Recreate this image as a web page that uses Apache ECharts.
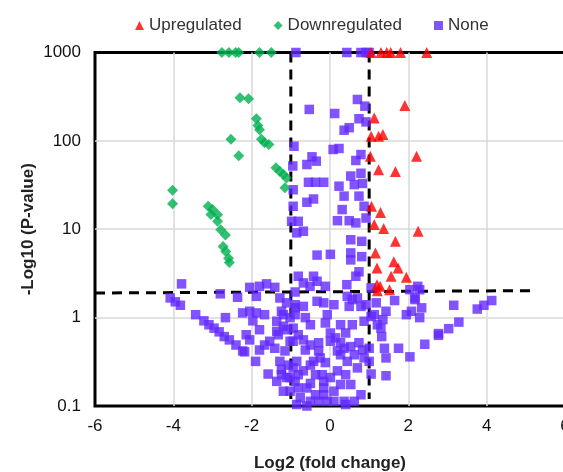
<!DOCTYPE html>
<html>
<head>
<meta charset="utf-8">
<script src="https://cdn.jsdelivr.net/npm/echarts@6/dist/echarts.min.js"></script>
<style>
  html, body { margin: 0; padding: 0; background: #fff; }
  #volcano { width: 563px; height: 472px; }
</style>
</head>
<body>
<div id="volcano"></div>
<script>
// [log2 fold change, -log10 p]
var upregulated = [
  [1.05, 1000], [1.3, 1000], [1.45, 1000], [1.55, 1000], [1.8, 1000], [2.47, 1000],
  [1.91, 251], [1.13, 182], [1.05, 113], [1.24, 113], [1.35, 118],
  [1.03, 67], [2.21, 67], [1.24, 47], [1.67, 45], [1.06, 18.2], [1.29, 15.5],
  [1.13, 11.3], [1.37, 10.2], [2.25, 9.5], [1.67, 7.3], [1.16, 5.4], [1.63, 4.3],
  [1.2, 3.65], [1.74, 3.65], [1.56, 2.94], [1.95, 2.86], [1.2, 2.36], [1.28, 2.26],
  [1.52, 2.07], [1.21, 2.02]
]
var downregulated = [
  [-2.76, 1000], [-2.58, 1000], [-2.41, 1000], [-2.33, 1000], [-1.8, 1000], [-1.5, 1000],
  [-2.3, 307], [-2.08, 300], [-1.88, 178], [-1.84, 149], [-1.8, 134], [-1.75, 104],
  [-1.67, 95], [-1.56, 91], [-2.53, 104], [-2.33, 68], [-1.38, 49.6], [-1.28, 45],
  [-1.19, 41.6], [-1.11, 38], [-1.15, 29.4], [-4.02, 27.7], [-4.02, 19.4],
  [-3.11, 18.2], [-3.0, 16.7], [-2.87, 14.6], [-3.04, 14.7], [-2.87, 12.3],
  [-2.79, 9.9], [-2.67, 8.6], [-2.73, 6.4], [-2.66, 5.6], [-2.59, 4.7], [-2.57, 4.2]
]
var none = [
  [-0.87, 1000], [0.43, 1000], [0.79, 1000], [0.92, 1000], [1.0, 1000],
  [0.7, 294], [0.89, 247], [-0.53, 227], [0.12, 204], [0.74, 178], [0.92, 164],
  [0.36, 132], [0.49, 141], [-0.92, 87], [0.08, 80], [0.23, 82], [-0.46, 66],
  [-0.35, 59], [-0.59, 54], [0.79, 70], [0.66, 60], [-0.95, 52], [0.53, 40],
  [0.79, 43], [0.62, 32], [0.83, 33], [-0.55, 34], [-0.37, 34], [-0.16, 34],
  [0.23, 30.7], [-0.94, 28], [0.36, 23.7], [0.74, 23.7], [-0.59, 20.2], [-0.42, 22],
  [-0.94, 18.2], [0.87, 18.2], [0.31, 16.7],
  [-0.81, 12.3], [-0.68, 9.5], [-0.85, 9.1], [0.19, 12.5], [0.49, 12.5], [0.66, 11.8],
  [0.92, 13.4], [0.53, 7.6], [0.81, 7.3], [-0.33, 5.1], [0.01, 5.2], [0.53, 5.4],
  [0.53, 4.5], [0.81, 4.9], [0.74, 3.3], [0.66, 2.94], [0.43, 2.36], [-0.81, 2.94],
  [-0.42, 2.94], [-0.33, 2.58], [-0.68, 2.47], [-0.51, 2.26], [-0.12, 2.26],
  [-0.89, 1.95], [-0.98, 12.3], [1.05, 2.17], [1.65, 1.56], [2.04, 2.07], [2.24, 2.26],
  [2.17, 1.67], [2.34, 1.29], [2.29, 1.0], [1.95, 1.08], [2.08, 1.18], [2.17, 1.6],
  [-0.33, 1.53], [-0.16, 1.47], [0.1, 1.4], [0.44, 1.74], [0.57, 1.6], [0.7, 1.67],
  [0.49, 1.34], [0.79, 1.34], [0.92, 1.4], [1.18, 1.47], [1.43, 1.18], [1.35, 0.95],
  [1.13, 1.08], [1.21, 0.83], [-0.07, 1.08], [-0.12, 0.87], [0.27, 0.83], [0.57, 0.83],
  [0.87, 0.91], [1.05, 1.03], [1.3, 0.76], [1.32, 0.61], [1.39, 0.45], [1.43, 0.35],
  [1.43, 0.22], [1.75, 0.45], [2.04, 0.36], [2.42, 0.5], [2.77, 0.63],
  [0.01, 0.67], [0.14, 0.59], [0.27, 0.52], [0.53, 0.47], [0.83, 0.43], [1.0, 0.45],
  [1.0, 0.32], [1.05, 0.23],
  [-0.94, 0.76], [-0.94, 0.54], [-0.68, 0.56], [-0.5, 0.49], [-0.29, 0.42], [-0.42, 0.32],
  [-0.85, 0.32], [-0.68, 0.25], [-0.89, 0.19], [-0.59, 0.16], [-0.76, 0.124], [-0.5, 0.113],
  [-0.29, 0.113], [-0.16, 0.134], [0.01, 0.21], [0.19, 0.25], [0.27, 0.38], [0.44, 0.32],
  [0.4, 0.226], [0.62, 0.38], [0.7, 0.27], [0.53, 0.175], [0.1, 0.147], [0.36, 0.113],
  [0.62, 0.113], [0.79, 0.134], [0.27, 0.175], [-0.2, 0.226],
  [-3.79, 2.41], [-4.08, 1.67], [-3.95, 1.51], [-3.82, 1.38], [-3.43, 1.08], [-3.22, 0.92],
  [-3.09, 0.83], [-2.96, 0.76], [-2.83, 0.69], [-2.7, 0.61], [-2.57, 0.56], [-2.4, 0.49],
  [-2.18, 0.41], [-1.9, 0.32], [-1.58, 0.23], [-2.8, 1.86], [-2.36, 1.7], [-2.67, 1.0],
  [-2.05, 2.2], [-1.8, 2.26], [-1.62, 2.41], [-1.41, 2.2], [-1.88, 1.74], [-2.23, 1.13],
  [-2.05, 1.18], [-1.88, 1.13], [-1.67, 1.08], [-1.97, 0.92], [-2.14, 0.64], [-2.05, 0.56],
  [-1.8, 0.73], [-1.8, 0.43], [-1.67, 0.49], [-2.23, 0.42],
  [-1.28, 1.67], [-1.11, 1.47], [-1.24, 1.18], [-1.36, 0.91], [-1.19, 0.8], [-1.32, 0.64],
  [-1.54, 0.54], [-1.41, 0.45], [-1.15, 0.42], [-1.28, 0.32], [-1.06, 0.29], [-1.24, 0.226],
  [-1.36, 0.19], [-1.11, 0.21], [-1.02, 0.147], [-1.19, 0.147], [-0.89, 1.4], [-0.85, 0.104],
  [-1.19, 1.08], [-1.02, 1.0], [-1.36, 0.7], [-1.11, 0.73], [-1.02, 0.54], [-0.94, 0.27],
  [-1.02, 0.21], [-0.81, 0.226], [-0.81, 0.16], [-1.24, 0.26],
  [-0.89, 1.29], [-0.68, 1.34], [-0.89, 1.08], [-0.63, 1.0], [-0.5, 0.83], [-0.81, 0.64],
  [-0.29, 0.52], [-0.63, 0.43], [-0.25, 0.35], [-0.5, 0.29], [-0.12, 0.31], [-0.37, 0.226],
  [-0.16, 0.19], [-0.5, 0.18], [-0.16, 0.16], [-0.37, 0.134], [-0.07, 0.113], [-0.59, 0.1],
  [0.1, 0.113], [0.4, 0.104], [0.19, 0.42], [0.36, 0.45], [0.74, 0.52], [0.87, 0.35],
  [0.01, 0.54], [0.4, 0.67],
  [3.16, 1.38], [3.76, 1.25], [3.93, 1.38], [4.13, 1.56], [3.29, 0.89], [3.03, 0.75],
  [2.77, 0.66], [2.29, 2.07]
]
// threshold guides
var pCutLine = [[-6, 1.9], [5.2, 2.02]]
var fcCutLeft = [[-1, 1000], [-1, 0.12]]
var fcCutRight = [[1, 1000], [1, 0.12]]
var xTicks = { min: -6, max: 6, step: 2 }
var yTicks = { min: 0.1, max: 1000 }

var chart = echarts.init(document.getElementById('volcano'))
var font = 'Liberation Sans, Arial, sans-serif'
var dashStyle = { color: '#000', width: 3, type: [10, 7] }

function guide (data) {
  return {
    type: 'line',
    data: data,
    symbol: 'none',
    silent: true,
    z: 1,
    lineStyle: dashStyle
  }
}

chart.setOption({
  animation: false,
  textStyle: { fontFamily: font },
  legend: {
    top: 12,
    left: 130,
    itemWidth: 9,
    itemHeight: 9,
    itemGap: 32,
    textStyle: { fontSize: 17, color: '#333', fontFamily: font },
    data: [
      { name: 'Upregulated', icon: 'triangle' },
      { name: 'Downregulated', icon: 'diamond' },
      { name: 'None', icon: 'rect' }
    ]
  },
  grid: {
    left: 95,
    top: 52.5,
    width: 470,
    height: 353.5,
    outerBoundsMode: 'none',
    containLabel: false,
    show: true,
    borderColor: '#000',
    borderWidth: 3
  },
  xAxis: {
    type: 'value',
    min: xTicks.min,
    max: xTicks.max,
    interval: xTicks.step,
    name: 'Log2 (fold change)',
    nameLocation: 'middle',
    nameGap: 49,
    nameMoveOverlap: false,
    nameTextStyle: { fontSize: 17, fontWeight: 'bold', color: '#222' },
    axisLine: { show: false },
    axisTick: { show: false },
    axisLabel: { fontSize: 17, color: '#111', margin: 12 },
    splitLine: {
      showMinLine: false,
      showMaxLine: false,
      lineStyle: { color: '#d9d9d9', width: 1.5 }
    }
  },
  yAxis: {
    type: 'log',
    logBase: 10,
    min: yTicks.min,
    max: yTicks.max,
    name: '-Log10 (P-value)',
    nameLocation: 'middle',
    nameGap: 58,
    nameMoveOverlap: false,
    nameTextStyle: { fontSize: 17, fontWeight: 'bold', color: '#222' },
    axisLine: { show: false },
    axisTick: { show: false },
    axisLabel: {
      fontSize: 17,
      color: '#111',
      margin: 14,
      formatter: function (v) { return String(+v.toPrecision(6)) }
    },
    splitLine: {
      showMinLine: false,
      showMaxLine: false,
      lineStyle: { color: '#d9d9d9', width: 1.5 }
    }
  },
  series: [
    guide(pCutLine),
    guide(fcCutLeft),
    guide(fcCutRight),
    {
      name: 'None',
      type: 'scatter',
      symbol: 'rect',
      symbolSize: 9.5,
      itemStyle: { color: '#6229ff' },
      data: none,
      z: 3
    },
    {
      name: 'Downregulated',
      type: 'scatter',
      symbol: 'diamond',
      symbolSize: 11,
      itemStyle: { color: '#00b050' },
      data: downregulated,
      z: 4
    },
    {
      name: 'Upregulated',
      type: 'scatter',
      symbol: 'triangle',
      symbolSize: 11,
      itemStyle: { color: '#ff0000' },
      data: upregulated,
      z: 5
    }
  ]
})
</script>
</body>
</html>
